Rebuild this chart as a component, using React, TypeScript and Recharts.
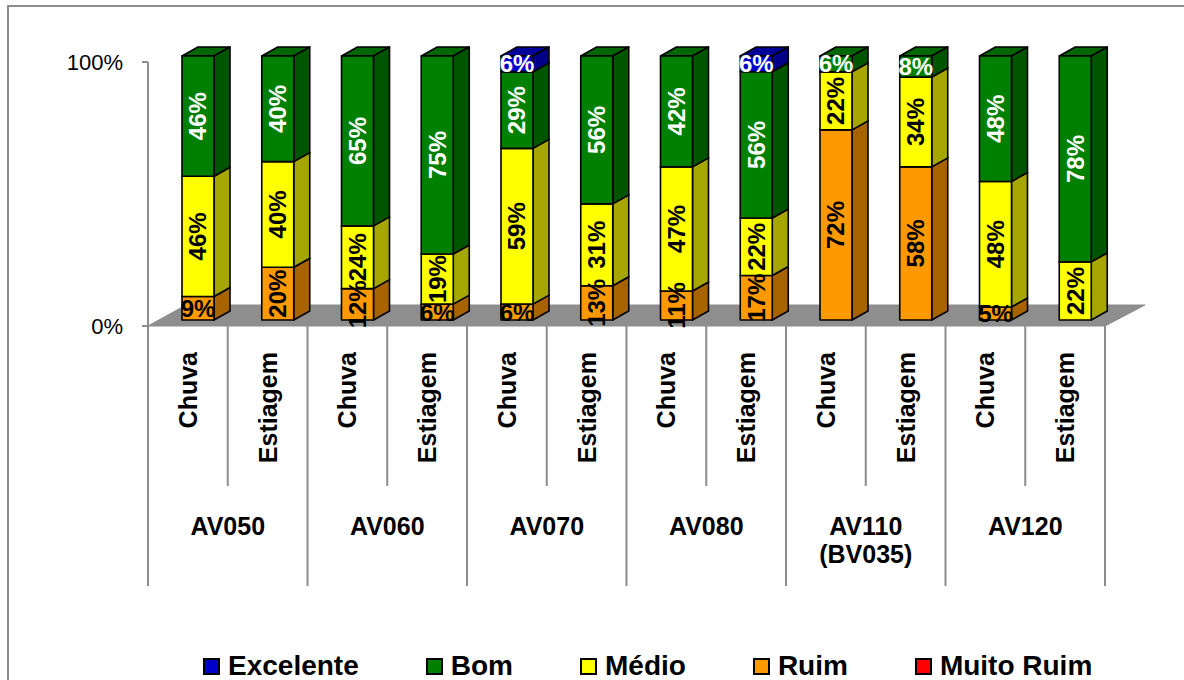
import { Bar, BarChart, LabelList, Legend, XAxis, YAxis } from "recharts";

const stations = [
  "AV050", "AV050", "AV060", "AV060", "AV070", "AV070",
  "AV080", "AV080", "AV110 (BV035)", "AV110 (BV035)", "AV120", "AV120",
];
const seasons = [
  "Chuva", "Estiagem", "Chuva", "Estiagem", "Chuva", "Estiagem",
  "Chuva", "Estiagem", "Chuva", "Estiagem", "Chuva", "Estiagem",
];
const excelente = [0, 0, 0, 0, 6, 0, 0, 6, 0, 0, 0, 0];
const bom = [46, 40, 65, 75, 29, 56, 42, 56, 6, 8, 48, 78];
const medio = [46, 40, 24, 19, 59, 31, 47, 22, 22, 34, 48, 22];
const ruim = [9, 20, 12, 6, 6, 13, 11, 17, 72, 58, 5, 0];
const muitoRuim = [0, 0, 0, 0, 0, 0, 0, 0, 0, 0, 0, 0];

const data = seasons.map((season, i) => ({
  station: stations[i],
  season,
  excelente: excelente[i],
  bom: bom[i],
  medio: medio[i],
  ruim: ruim[i],
  muitoRuim: muitoRuim[i],
}));

// bottom to top of each stack
const SERIES = [
  { key: "muitoRuim", name: "Muito Ruim", front: "#FF0000", top: "#CC0000", side: "#A00000", text: "#000" },
  { key: "ruim", name: "Ruim", front: "#FF9900", top: "#CC7A00", side: "#A66300", text: "#000" },
  { key: "medio", name: "Médio", front: "#FFFF00", top: "#CCCC00", side: "#A6A600", text: "#000" },
  { key: "bom", name: "Bom", front: "#008000", top: "#006600", side: "#005500", text: "#fff" },
  { key: "excelente", name: "Excelente", front: "#0000CC", top: "#000099", side: "#000088", text: "#fff" },
];

const FONT = "'Liberation Sans', Arial, sans-serif";
const W = 1184;
const H = 680;
const PLOT_LEFT = 148;
const PLOT_RIGHT = 1105;
const PLOT_TOP = 62;
const PLOT_BOTTOM = 326;
const BAND = (PLOT_RIGHT - PLOT_LEFT) / data.length;
const GRAY = "#8c8c8c";

// columns sit a little inside the floor depth
const SHIFT_X = 10;
const SHIFT_Y = -6;
const DEPTH_X = 16;
const DEPTH_Y = 9;

const Column3D = (props: any) => {
  const { x, y, width, height, colors } = props;
  if (!height || height <= 0.5) return null;
  const x0 = x + SHIFT_X;
  const y0 = y + SHIFT_Y;
  const x1 = x0 + width;
  const y1 = y0 + height;
  return (
    <g stroke="#000" strokeWidth={1.6} strokeLinejoin="round">
      <polygon
        points={`${x0},${y0} ${x0 + DEPTH_X},${y0 - DEPTH_Y} ${x1 + DEPTH_X},${y0 - DEPTH_Y} ${x1},${y0}`}
        fill={colors.top}
      />
      <polygon
        points={`${x1},${y0} ${x1 + DEPTH_X},${y0 - DEPTH_Y} ${x1 + DEPTH_X},${y1 - DEPTH_Y} ${x1},${y1}`}
        fill={colors.side}
      />
      <rect x={x0} y={y0} width={width} height={height} fill={colors.front} />
    </g>
  );
};

const makeLabel = (color: string) => (props: any) => {
  const { x, y, width, height, value } = props;
  if (!value) return null;
  const cx = Number(x) + Number(width) / 2 + SHIFT_X;
  const cy = Number(y) + Number(height) / 2 + SHIFT_Y;
  const common = {
    x: cx,
    y: cy,
    fill: color,
    fontSize: 24,
    fontWeight: "bold",
    fontFamily: FONT,
    textAnchor: "middle" as const,
    dominantBaseline: "central" as const,
  };
  if (value < 10) return <text {...common}>{`${value}%`}</text>;
  return (
    <text {...common} transform={`rotate(-90 ${cx} ${cy})`}>
      {`${value}%`}
    </text>
  );
};

const YTick = (props: any) => {
  const { x, y, payload } = props;
  return (
    <text
      x={x - 17}
      y={y}
      textAnchor="end"
      dominantBaseline="central"
      fontSize={22}
      fontFamily={FONT}
      fill="#000"
    >
      {`${Math.round(payload.value * 100)}%`}
    </text>
  );
};

const SeasonTick = (props: any) => {
  const { x, y, payload, index } = props;
  const left = x - BAND / 2;
  const first = index % 2 === 0;
  return (
    <g>
      <line x1={left} x2={left} y1={y} y2={y + (first ? 260 : 160)} stroke={GRAY} strokeWidth={2} />
      {index === data.length - 1 && (
        <line x1={x + BAND / 2} x2={x + BAND / 2} y1={y} y2={y + 260} stroke={GRAY} strokeWidth={2} />
      )}
      <text
        x={x}
        y={y + 26}
        transform={`rotate(-90 ${x} ${y + 26})`}
        textAnchor="end"
        dominantBaseline="central"
        fontSize={25}
        fontWeight="bold"
        fontFamily={FONT}
        fill="#000"
      >
        {payload.value}
      </text>
    </g>
  );
};

const GroupTick = (props: any) => {
  const { x, y, payload, index } = props;
  if (index % 2 !== 0) return null;
  const lines = String(payload.value).split(" ");
  return (
    <text
      x={x + BAND / 2}
      y={y + 49}
      textAnchor="middle"
      fontSize={25}
      fontWeight="bold"
      fontFamily={FONT}
      fill="#000"
    >
      {lines.map((l, i) => (
        <tspan key={l} x={x + BAND / 2} dy={i === 0 ? 0 : 28}>
          {l}
        </tspan>
      ))}
    </text>
  );
};

const LegendContent = () => (
  <div style={{ display: "flex", gap: 67, alignItems: "center" }}>
    {[...SERIES].reverse().map((s) => (
      <div key={s.key} style={{ display: "flex", alignItems: "center" }}>
        <span
          style={{
            width: 13,
            height: 13,
            background: s.front,
            border: "2px solid #000",
            marginRight: 8,
          }}
        />
        <span style={{ fontFamily: FONT, fontSize: 28, fontWeight: "bold", color: "#000" }}>
          {s.name}
        </span>
      </div>
    ))}
  </div>
);

export default function App() {
  return (
    <div style={{ position: "absolute", left: 0, top: 0, width: W, height: H, overflow: "hidden", background: "#fff" }}>
      <div
        style={{
          position: "absolute",
          left: 7,
          top: 5,
          width: 1300,
          height: 800,
          border: `2px solid ${GRAY}`,
        }}
      />
      {/* floor under the columns */}
      <svg width={W} height={H} style={{ position: "absolute", left: 0, top: 0 }}>
        <polygon
          points={`${PLOT_LEFT},${PLOT_BOTTOM} ${PLOT_RIGHT},${PLOT_BOTTOM} ${PLOT_RIGHT + 40},${PLOT_BOTTOM - 21} ${PLOT_LEFT + 38},${PLOT_BOTTOM - 21}`}
          fill="#8e8e8e"
          stroke={GRAY}
          strokeWidth={1}
        />
      </svg>
      <div style={{ position: "absolute", left: 0, top: 0 }}>
        <BarChart
          width={W}
          height={H}
          data={data}
          stackOffset="expand"
          margin={{ top: PLOT_TOP, right: W - PLOT_RIGHT, bottom: H - PLOT_BOTTOM - 260, left: 0 }}
          barSize={32}
        >
          <XAxis
            dataKey="season"
            interval={0}
            height={160}
            axisLine={false}
            tickLine={false}
            tickSize={0}
            tickMargin={0}
            tick={<SeasonTick />}
          />
          <XAxis
            xAxisId="group"
            dataKey="station"
            interval={0}
            height={100}
            axisLine={false}
            tickLine={false}
            tickSize={0}
            tickMargin={0}
            tick={<GroupTick />}
          />
          <YAxis
            width={PLOT_LEFT}
            domain={[0, 1]}
            ticks={[0, 1]}
            axisLine={{ stroke: GRAY, strokeWidth: 2 }}
            tickLine={{ stroke: GRAY, strokeWidth: 2 }}
            tickSize={6}
            tick={<YTick />}
          />
          <Legend
            verticalAlign="middle"
            align="center"
            layout="horizontal"
            wrapperStyle={{ top: 650, left: 203, width: 981 }}
            content={<LegendContent />}
          />
          {SERIES.map((s) => (
            <Bar
              key={s.key}
              dataKey={s.key}
              name={s.name}
              stackId="a"
              fill={s.front}
              isAnimationActive={false}
              shape={(p: any) => <Column3D {...p} colors={s} />}
            >
              <LabelList dataKey={s.key} content={makeLabel(s.text)} />
            </Bar>
          ))}
        </BarChart>
      </div>
    </div>
  );
}
